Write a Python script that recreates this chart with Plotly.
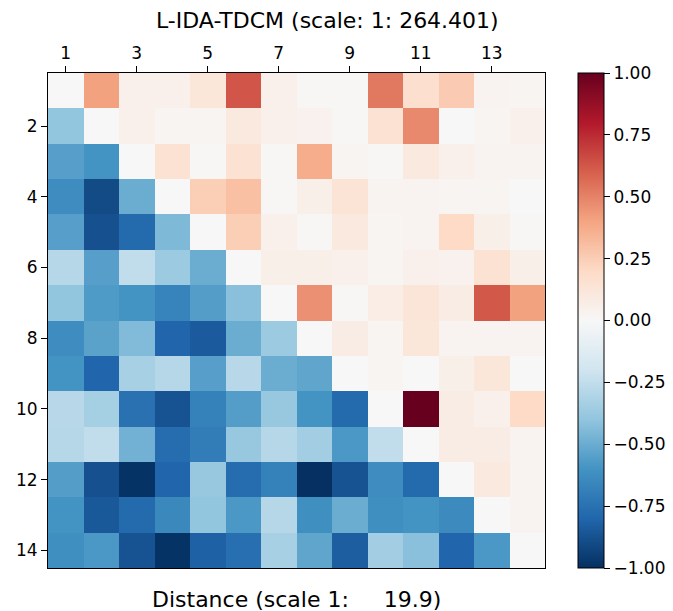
import plotly.graph_objects as go

categories = list(range(1, 15))
x_tick_vals = [1, 3, 5, 7, 9, 11, 13]
y_tick_vals = [2, 4, 6, 8, 10, 12, 14]
cbar_ticks = [-1.0, -0.75, -0.5, -0.25, 0.0, 0.25, 0.5, 0.75, 1.0]

row_1 = [0, 0.41, 0.05, 0.05, 0.12, 0.63, 0.05, 0.01, 0.01, 0.53, 0.17, 0.26, 0.03, 0.02]
row_2 = [-0.40, 0, 0.05, 0.02, 0.02, 0.10, 0.05, 0.04, 0.01, 0.15, 0.48, 0.0, 0.02, 0.05]
row_3 = [-0.55, -0.60, 0, 0.15, 0.01, 0.15, 0.01, 0.37, 0.02, 0.01, 0.10, 0.05, 0.03, 0.03]
row_4 = [-0.63, -0.90, -0.50, 0, 0.25, 0.30, 0.01, 0.06, 0.14, 0.03, 0.03, 0.02, 0.02, 0.0]
row_5 = [-0.55, -0.88, -0.78, -0.45, 0, 0.25, 0.05, 0.01, 0.10, 0.02, 0.03, 0.20, 0.06, 0.01]
row_6 = [-0.29, -0.55, -0.25, -0.37, -0.50, 0, 0.06, 0.06, 0.05, 0.02, 0.05, 0.04, 0.15, 0.06]
row_7 = [-0.40, -0.57, -0.60, -0.67, -0.56, -0.42, 0, 0.46, 0.01, 0.07, 0.13, 0.08, 0.62, 0.41]
row_8 = [-0.63, -0.54, -0.44, -0.80, -0.84, -0.50, -0.37, 0, 0.08, 0.02, 0.12, 0.03, 0.03, 0.03]
row_9 = [-0.60, -0.80, -0.33, -0.29, -0.55, -0.28, -0.50, -0.53, 0, 0.02, 0.0, 0.06, 0.12, 0.0]
row_10 = [-0.28, -0.34, -0.75, -0.87, -0.68, -0.56, -0.38, -0.60, -0.78, 0, 1.0, 0.08, 0.05, 0.20]
row_11 = [-0.29, -0.25, -0.48, -0.77, -0.70, -0.38, -0.29, -0.35, -0.58, -0.25, 0, 0.08, 0.08, 0.03]
row_12 = [-0.56, -0.88, -0.99, -0.80, -0.38, -0.77, -0.68, -1.0, -0.87, -0.63, -0.78, 0, 0.10, 0.03]
row_13 = [-0.60, -0.85, -0.78, -0.65, -0.40, -0.58, -0.29, -0.62, -0.50, -0.62, -0.60, -0.64, 0, 0.03]
row_14 = [-0.62, -0.58, -0.87, -0.99, -0.82, -0.76, -0.33, -0.53, -0.83, -0.35, -0.42, -0.80, -0.58, 0]

z = [row_1, row_2, row_3, row_4, row_5, row_6, row_7, row_8, row_9, row_10,
     row_11, row_12, row_13, row_14]

rdbu_r = ["#053061", "#2166ac", "#4393c3", "#92c5de", "#d1e5f0", "#f7f7f7",
          "#fddbc7", "#f4a582", "#d6604d", "#b2182b", "#67001f"]
colorscale = [[i / 10, c] for i, c in enumerate(rdbu_r)]

FONT = "DejaVu Sans"
TICK = 17

fig = go.Figure(go.Heatmap(
    z=z, x=categories, y=categories,
    colorscale=colorscale, zmin=-1, zmax=1,
    colorbar=dict(
        x=1.066, xanchor="left", xref="paper", xpad=0,
        y=0.5, yanchor="middle", len=1.0, lenmode="fraction", ypad=0,
        thickness=26, outlinewidth=1, outlinecolor="black",
        tickvals=cbar_ticks, tickformat=".2f", ticks="outside",
        ticklen=6, tickcolor="black",
        tickfont=dict(family=FONT, size=TICK, color="black"),
    ),
))

# page body has an 8px margin, so the figure is sized/positioned to compensate
fig.update_layout(
    width=665, height=603,
    margin=dict(l=40, r=128, t=65, b=43, autoexpand=False),
    paper_bgcolor="white", plot_bgcolor="white",
    font=dict(family=FONT, color="black"),
    xaxis=dict(
        side="top", range=[0.5, 14.5], tickvals=x_tick_vals,
        ticks="outside", ticklen=6, tickcolor="black",
        showline=True, linecolor="black", linewidth=1, mirror=True,
        showgrid=False, zeroline=False, automargin=False,
        tickfont=dict(family=FONT, size=TICK, color="black"),
    ),
    yaxis=dict(
        range=[14.5, 0.5], tickvals=y_tick_vals,
        ticks="outside", ticklen=6, tickcolor="black",
        showline=True, linecolor="black", linewidth=1, mirror=True,
        showgrid=False, zeroline=False, automargin=False,
        tickfont=dict(family=FONT, size=TICK, color="black"),
    ),
    annotations=[
        dict(text="L-IDA-TDCM (scale: 1: 264.401)", xref="paper", yref="paper",
             x=0.563, y=1.107, xanchor="center", yanchor="middle", showarrow=False,
             font=dict(family=FONT, size=22, color="black")),
        dict(text="Distance (scale 1:\u00a0\u00a0\u00a0\u00a0\u00a019.9)", xref="paper", yref="paper",
             x=0.5, y=-0.0646, xanchor="center", yanchor="middle", showarrow=False,
             font=dict(family=FONT, size=22, color="black")),
    ],
)

fig.write_html("out.html")
